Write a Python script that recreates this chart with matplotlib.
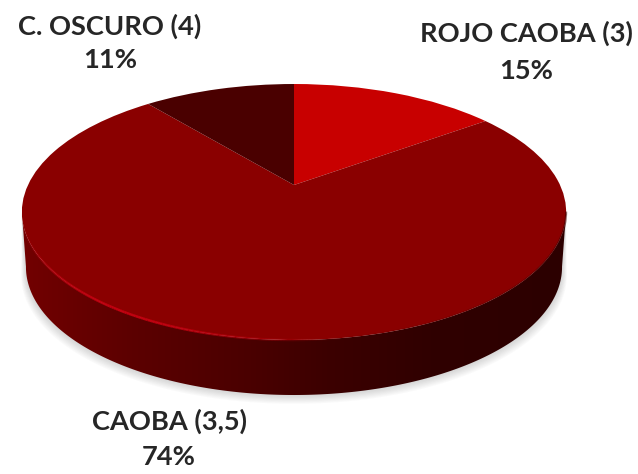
import numpy as np
import matplotlib
matplotlib.use('Agg')
import matplotlib.pyplot as plt
from matplotlib.collections import LineCollection
from matplotlib.colors import LinearSegmentedColormap
from matplotlib.patches import Polygon
from matplotlib.transforms import Transform

# Slices, clockwise from twelve o'clock
values = [15, 74, 11]
names = ['ROJO CAOBA (3)', 'CAOBA (3,5)', 'C. OSCURO (4)']
colors = ['#c80000', '#8a0000', '#4a0000']

# Pie position on the canvas, in pixels
cx, cy = 294, 185
a, b, c = 122.3, 0.211, 266
depth = 55


# Tilts the flat pie so that the near side looks bigger
class Tilt(Transform):
    input_dims = 2
    output_dims = 2

    def transform_non_affine(self, xy):
        xy = np.asarray(xy)
        w = 1 + b * xy[:, 1]
        return np.column_stack([cx + c * xy[:, 0] / w, cy - a * xy[:, 1] / w])


tilt = Tilt()

fig, ax = plt.subplots(figsize=(6.38, 4.74), dpi=100)
fig.subplots_adjust(0, 0, 1, 1)

# Outline of the disc, used for the side, the shadow and the highlight
t = np.linspace(0, 2 * np.pi, 721)
rim = tilt.transform(np.column_stack([np.cos(t), np.sin(t)]))
left = rim[:, 0].argmin()
right = rim[:, 0].argmax()
bottom = rim[:, 1].argmax()
front = rim[left:right + 1]
lower = front.copy()
lower[:, 0] = cx + (lower[:, 0] - cx) * 0.985
lower[:, 1] += depth

# Soft shadow under the pie
for i in range(1, 9):
    shadow = lower.copy()
    shadow[:, 0] = cx + (shadow[:, 0] - cx) * (1 + i * 0.0022)
    shadow[:, 1] += i * 1.1
    ax.add_patch(Polygon(np.vstack([front, shadow[::-1]]), closed=True,
                         fc='#707070', ec='none', alpha=0.035, zorder=1))

# Side of the pie, lighter to the left
side_cmap = LinearSegmentedColormap.from_list('side', [
    (0.0, '#720000'), (0.2, '#5c0000'), (0.42, '#4a0000'),
    (0.56, '#3c0000'), (0.75, '#300000'), (1.0, '#2c0000')])
side = Polygon(np.vstack([front, lower[::-1]]), closed=True, fc='none', ec='none', zorder=2)
ax.add_patch(side)
img = ax.imshow(np.linspace(0, 1, 256)[None, :], cmap=side_cmap, aspect='auto',
                extent=(22, 567, 474, 0), zorder=2)
img.set_clip_path(side)

# Top of the pie
wedges, _ = ax.pie(values, colors=colors, startangle=90, counterclock=False,
                   radius=1, wedgeprops={'linewidth': 0})
for w in wedges:
    w.set_transform(tilt + ax.transData)
    w.set_zorder(3)

# Lighter edge along the near left rim
pts = rim[left:bottom + 30]
segs = np.stack([pts[:-1], pts[1:]], axis=1)
fade = np.sin(np.linspace(0, np.pi, len(segs))) ** 2
edge = LineCollection(segs, colors=[(0.76, 0.0, 0.06, f) for f in fade],
                      linewidths=1.8, zorder=4)
ax.add_collection(edge)

# Darker edge along the near right rim
pts = rim[bottom:right + 1]
segs = np.stack([pts[:-1], pts[1:]], axis=1)
fade = np.linspace(0, 0.6, len(segs))
edge = LineCollection(segs, colors=[(0.25, 0.0, 0.0, f) for f in fade],
                      linewidths=1.5, zorder=4)
ax.add_collection(edge)

# Labels: name position and height of the percentage below it
label_xy = [(526, 33, 71), (169, 421, 457), (110, 26, 60)]
for name, val, (x, y, y2) in zip(names, values, label_xy):
    ax.text(x, y, name, ha='center', va='center', fontsize=19.6, family='Lato',
            fontweight='bold', color='#262626')
    ax.text(x, y2, f'{val}%', ha='center', va='center', fontsize=19.6, family='Lato',
            fontweight='bold', color='#262626')

ax.set_aspect('auto')
ax.set_xlim(0, 638)
ax.set_ylim(474, 0)
ax.axis('off')

fig.savefig('out.png', dpi=100)
